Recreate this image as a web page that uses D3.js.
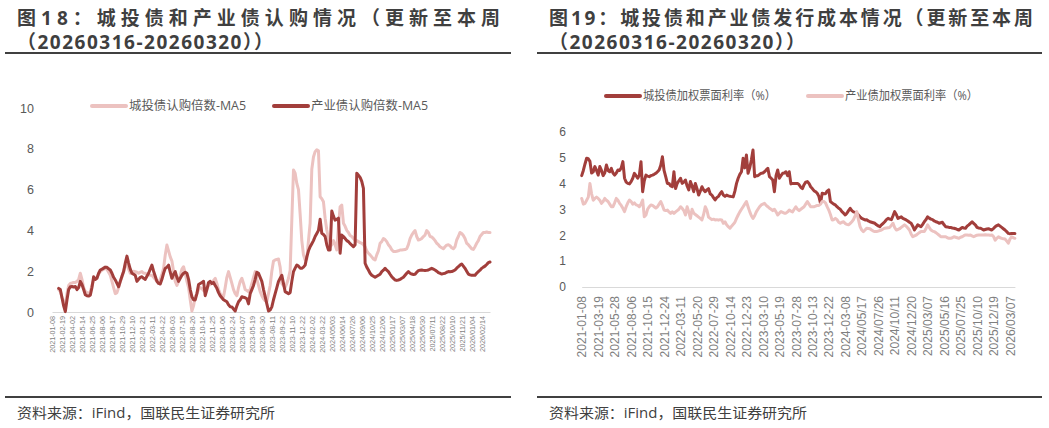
<!DOCTYPE html>
<html>
<head>
<meta charset="utf-8">
<script src="https://cdn.jsdelivr.net/npm/d3@7"></script>
<style>
  body { margin: 0; background: #fff; }
  svg { display: block; font-family: "Open Sans", "Noto Sans CJK SC", sans-serif; }
</style>
</head>
<body>
<svg width="1049" height="428"></svg>
<script>
// ---- data ----
// Left chart: weekly subscription multiples (MA5), first 4 weeks empty
const leftTickLabels = ["2021-01-08","2021-02-19","2021-04-02","2021-05-14","2021-06-25","2021-08-06","2021-09-17","2021-10-29","2021-12-10","2022-01-21","2022-03-11","2022-04-22","2022-06-03","2022-07-15","2022-08-26","2022-10-14","2022-11-25","2023-01-06","2023-02-24","2023-04-07","2023-05-19","2023-06-30","2023-08-11","2023-09-22","2023-11-10","2023-12-22","2024-02-02","2024-03-22","2024/05/03","2024/06/14","2024/07/26","2024/09/06","2024/10/25","2024/12/06","2025/01/17","2025/03/07","2025/04/18","2025/05/30","2025/07/11","2025/08/22","2025/10/10","2025/11/21","2026/01/04","2026/02/14"];

const ctSubscribe = [null,null,null,null,1.1,1.0,0.7,0.5,0.35,0.9,
  1.3,1.4,1.42,1.45,1.45,1.5,1.6,1.9,1.6,1.2,
  1.0,0.95,0.9,1.0,1.3,1.57,1.6,1.7,1.85,1.98,
  2.05,2.1,2.14,2.1,1.95,1.8,1.5,1.2,0.9,0.95,
  1.2,1.5,1.73,2.0,2.3,2.3,2.1,1.9,1.95,2.0,
  1.98,1.95,1.9,1.95,1.98,1.9,1.9,1.85,1.85,1.8,
  1.8,1.7,1.6,1.5,1.5,1.6,1.85,2.14,2.8,3.28,
  3.0,2.7,2.5,2.0,1.5,1.3,1.5,1.8,2.1,2.22,
  1.9,1.5,1.2,0.6,0.05,0.3,0.75,0.9,1.1,1.2,
  1.15,1.05,1.0,1.15,1.3,1.35,1.4,1.55,1.65,1.4,
  1.1,0.9,0.8,0.75,1.2,1.7,1.98,1.7,1.4,1.1,
  0.9,0.8,1.2,1.5,1.65,1.4,1.1,1.05,1.0,1.1,
  1.4,1.7,1.98,1.6,1.3,1.0,0.8,0.65,0.55,0.5,
  0.9,1.3,2.0,2.5,2.55,2.58,2.6,2.2,1.4,1.3,
  1.2,1.4,1.65,2.05,4.5,6.96,6.8,6.3,6.0,4.8,
  3.5,2.8,2.55,2.6,3.5,4.35,7.0,7.6,7.86,7.95,
  7.9,5.65,5.55,5.4,4.6,4.02,3.6,3.2,3.3,3.5,
  3.3,3.04,4.2,5.16,5.24,4.35,4.2,4.0,3.9,3.75,
  3.7,3.6,3.53,3.5,3.45,3.4,3.37,3.3,3.2,3.0,
  2.88,2.8,2.7,2.6,2.55,2.8,3.0,3.37,3.45,3.6,
  3.55,3.45,3.3,3.2,3.05,2.96,2.96,2.98,3.0,3.04,
  3.04,3.05,3.06,3.1,3.3,3.6,3.77,3.9,3.99,3.7,
  3.53,3.55,3.6,3.7,3.77,3.99,3.9,3.7,3.68,3.6,
  3.5,3.37,3.3,3.2,3.15,3.1,3.2,3.28,3.3,3.25,
  3.15,3.1,3.2,3.53,3.7,3.9,3.85,3.75,3.6,3.37,
  3.3,3.2,3.1,3.07,3.2,3.37,3.5,3.7,3.8,3.9,
  3.9,3.92,3.9,3.9];

const cySubscribe = [null,null,null,null,1.16,1.1,0.7,0.3,0.02,0.6,
  1.1,1.24,1.25,1.22,1.25,1.1,1.2,1.5,1.35,1.1,
  0.85,0.8,0.78,0.82,1.2,1.73,1.6,1.65,1.9,2.06,
  2.1,2.15,2.2,2.19,2.12,2.06,1.9,1.7,1.57,1.4,
  1.24,1.5,1.75,1.98,2.4,2.74,2.4,2.1,1.9,1.85,
  1.8,1.5,1.6,1.7,1.73,1.65,1.6,1.75,1.9,2.1,
  2.3,2.0,1.75,1.5,1.4,1.37,1.6,1.9,2.14,2.2,
  2.3,1.95,1.65,1.85,1.98,1.7,1.5,1.65,1.8,1.9,
  1.95,1.9,1.6,1.1,0.75,0.6,0.59,0.9,1.35,1.4,
  1.45,1.5,0.8,1.1,1.45,1.5,1.4,1.45,1.3,1.16,
  0.95,0.8,0.7,0.6,0.55,0.5,0.35,0.26,0.25,0.15,
  0.05,0.3,0.5,0.6,0.75,0.72,0.7,0.65,0.4,0.9,
  1.1,1.3,1.6,1.95,1.9,1.7,1.5,1.1,0.75,0.4,
  0.05,0.1,0.25,0.6,0.9,1.2,1.5,1.65,1.8,1.4,
  1.0,0.95,0.9,0.95,1.5,1.98,2.15,2.3,2.25,2.15,
  2.14,2.2,2.3,2.7,3.0,3.2,3.35,3.5,3.7,3.85,
  4.0,4.55,3.86,3.8,3.7,3.3,3.04,3.04,4.95,4.7,
  4.5,4.55,4.6,2.88,3.77,3.7,3.6,3.5,3.45,3.35,
  3.28,3.2,3.3,6.8,6.7,6.6,6.4,6.06,2.39,2.2,
  2.06,1.9,1.8,1.75,1.7,1.75,1.8,1.85,1.98,2.05,
  2.14,2.05,1.98,1.85,1.73,1.65,1.57,1.55,1.57,1.6,
  1.65,1.7,1.8,1.9,1.98,1.9,1.86,1.84,1.85,1.95,
  2.03,2.05,2.06,2.04,2.03,2.04,2.06,2.1,2.14,2.1,
  2.06,2.0,1.93,1.9,1.86,1.88,1.9,1.95,1.98,1.97,
  1.98,2.02,2.06,2.15,2.22,2.3,2.35,2.25,2.14,2.0,
  1.86,1.82,1.8,1.8,1.8,1.9,1.98,2.05,2.14,2.2,
  2.25,2.33,2.42,2.45];

// Right chart: weekly weighted coupon rates (%)
const rightTickLabels = ["2021-01-08","2021-03-19","2021-05-28","2021-08-06","2021-10-15","2021-12-24","2022-03-11","2022-05-20","2022-07-29","2022-10-14","2022-12-23","2023-03-10","2023-05-19","2023-07-28","2023-10-13","2023-12-22","2024-03-08","2024/05/17","2024/07/26","2024/10/11","2024/12/20","2025/03/07","2025/05/16","2025/07/25","2025/10/10","2025/12/19","2026/03/07"];

const ctCoupon = [4.3,4.5,4.75,4.97,4.95,4.85,4.4,4.45,4.65,4.5,
  4.32,4.65,4.5,4.3,4.4,4.71,4.5,4.45,4.58,4.4,
  4.32,4.4,4.52,4.5,4.6,4.84,4.2,4.05,4.0,3.98,
  4.07,4.2,4.39,4.3,4.2,4.32,4.84,3.68,4.1,4.32,
  4.28,4.26,4.3,4.32,4.35,4.39,4.45,4.52,4.7,5.03,
  4.5,4.26,4.0,4.0,3.9,3.87,4.45,3.8,4.0,4.1,
  4.2,4.0,4.05,4.13,3.9,3.75,4.07,3.9,3.68,4.0,
  3.8,3.55,3.7,3.87,3.75,3.68,3.75,3.8,3.6,3.55,
  3.45,3.36,3.45,3.5,3.6,3.68,3.55,3.5,3.55,3.52,
  3.5,3.49,3.48,3.7,4.0,4.2,4.35,4.45,4.97,4.6,
  5.1,4.39,4.6,4.9,5.29,4.26,4.3,4.3,4.35,4.39,
  4.4,4.45,4.52,4.58,4.26,4.2,4.13,3.68,4.3,4.52,
  4.2,4.3,4.39,4.4,4.45,4.3,4.45,3.98,4.0,4.0,
  4.0,4.0,3.95,3.85,3.8,3.95,4.05,4.07,4.0,3.87,
  3.8,3.72,3.68,3.62,3.5,3.23,3.62,3.6,3.6,3.7,
  3.75,3.3,3.25,3.2,3.17,3.1,3.04,3.0,2.91,2.85,
  2.78,2.85,2.95,3.04,2.95,2.9,2.88,2.85,2.78,2.71,
  2.65,2.62,2.59,2.6,2.55,2.52,2.5,2.48,2.46,2.4,
  2.36,2.33,2.4,2.46,2.52,2.6,2.65,2.62,2.6,2.75,
  2.91,2.8,2.65,2.68,2.71,2.65,2.62,2.59,2.55,2.5,
  2.46,2.35,2.2,2.3,2.4,2.36,2.33,2.42,2.52,2.6,
  2.71,2.66,2.62,2.6,2.55,2.52,2.5,2.46,2.48,2.5,
  2.4,2.33,2.32,2.3,2.3,2.28,2.27,2.25,2.22,2.2,
  2.25,2.3,2.28,2.27,2.35,2.4,2.46,2.52,2.45,2.4,
  2.3,2.28,2.27,2.24,2.2,2.22,2.24,2.25,2.22,2.2,
  2.26,2.33,2.37,2.4,2.35,2.3,2.25,2.2,2.14,2.07,
  2.06,2.07,2.07,2.07];

const cyCoupon = [3.42,3.2,3.23,3.35,3.47,4.0,3.6,3.35,3.42,3.47,
  3.42,3.35,3.23,3.3,3.42,3.35,3.3,3.2,3.1,3.1,
  3.25,3.42,3.35,3.23,3.15,3.04,2.91,3.1,3.25,3.36,
  3.3,3.2,3.25,3.17,3.15,3.1,3.2,3.36,2.71,2.78,
  3.0,3.1,3.17,3.15,3.1,3.05,3.1,3.2,3.3,3.15,
  2.97,2.95,2.97,2.9,2.84,2.9,2.84,2.9,2.95,3.0,
  3.1,3.04,2.95,2.78,3.1,2.9,2.65,3.0,2.85,2.8,
  2.75,2.7,2.65,2.59,2.8,3.1,2.97,2.7,2.65,2.6,
  2.62,2.59,2.6,2.58,2.6,2.59,2.46,2.52,2.4,2.33,
  2.27,2.35,2.42,2.5,2.65,2.78,2.9,3.0,3.1,3.2,
  3.3,3.1,2.91,2.75,2.65,2.75,2.9,3.0,3.1,3.17,
  3.2,3.23,3.15,3.1,3.04,3.0,2.95,3.0,2.9,2.78,
  2.85,2.91,2.88,2.85,2.85,2.9,2.97,2.93,2.9,3.0,
  3.1,3.0,2.95,3.0,3.05,3.1,3.2,3.3,3.2,3.1,
  3.1,3.1,3.12,3.15,3.15,3.2,3.3,3.3,3.25,3.1,
  2.97,2.8,2.59,2.6,2.65,2.6,2.5,2.46,2.5,2.52,
  2.45,2.42,2.4,2.45,2.52,2.6,2.75,2.91,2.6,2.33,
  2.2,2.14,2.2,2.27,2.26,2.25,2.2,2.16,2.14,2.14,
  2.16,2.18,2.2,2.24,2.27,2.28,2.29,2.3,2.38,2.46,
  2.3,2.2,2.22,2.25,2.3,2.35,2.4,2.35,2.28,2.2,
  2.05,1.94,1.97,2.0,2.05,2.1,2.14,2.14,2.14,2.25,
  2.4,2.3,2.2,2.16,2.14,2.1,2.05,2.0,1.94,1.94,
  1.94,1.94,1.9,1.88,1.88,1.9,1.94,1.92,1.9,1.88,
  1.92,1.94,1.98,2.01,2.01,2.0,2.01,1.97,1.94,1.97,
  2.0,2.01,2.01,2.01,2.01,2.02,2.01,2.01,2.0,2.01,
  1.95,1.81,1.88,1.94,1.9,1.88,1.86,1.85,1.78,1.69,
  1.85,1.94,1.9,1.88];

const leftYTicks = [0, 2, 4, 6, 8, 10];
const rightYTicks = [0, 1, 2, 3, 4, 5, 6];

// ---- styles ----
const darkRed = "#a23e3b";
const lightPink = "#ecc2c0";
const textGray = "#595959";

const svg = d3.select("svg");

// ---- titles, rules, source ----
function panelFrame(x0, x1, line1, line2, len1, len2) {
  svg.append("text").attr("x", x0 + 12).attr("y", 25)
    .attr("font-size", 19).attr("font-weight", "bold").attr("fill", "#3f3f3f")
    .attr("textLength", len1).attr("lengthAdjust", "spacing")
    .text(line1);
  svg.append("text").attr("x", x0 + 12).attr("y", 49)
    .attr("font-size", 19).attr("font-weight", "bold").attr("fill", "#3f3f3f")
    .attr("textLength", len2).attr("lengthAdjust", "spacing")
    .text(line2);
  svg.append("line").attr("x1", x0).attr("x2", x1).attr("y1", 53).attr("y2", 53)
    .attr("stroke", "#404040").attr("stroke-width", 2);
  svg.append("line").attr("x1", x0).attr("x2", x1).attr("y1", 397).attr("y2", 397)
    .attr("stroke", "#404040").attr("stroke-width", 2);
  svg.append("text").attr("x", x0 + 12).attr("y", 418)
    .attr("font-size", 14).attr("fill", "#404040")
    .attr("textLength", 258).attr("lengthAdjust", "spacingAndGlyphs")
    .text("资料来源：iFind，国联民生证券研究所");
}
panelFrame(5, 511, "图18：城投债和产业债认购情况（更新至本周", "（20260316-20260320））", 483, 256);
panelFrame(537, 1042, "图19：城投债和产业债发行成本情况（更新至本周", "（20260316-20260320））", 484, 256);

// ---- chart helper ----
function drawChart(opt) {
  const n = opt.series[0].values.length;
  const x = d3.scalePoint().domain(d3.range(n)).range(opt.xRange);
  const y = d3.scaleLinear().domain(opt.yDomain).range(opt.yRange);

  // y axis labels
  const ya = svg.append("g").attr("transform", `translate(${opt.yLabelX},0)`)
    .call(d3.axisLeft(y).tickValues(opt.yTicks).tickFormat(d3.format("d"))
      .tickSize(0).tickPadding(0));
  ya.select(".domain").remove();
  ya.selectAll("text").attr("font-size", opt.yFont).attr("fill", textGray)
    .attr("font-family", null);

  // x axis
  const every = opt.tickEvery;
  const xa = svg.append("g").attr("transform", `translate(0,${opt.yRange[0]})`)
    .call(d3.axisBottom(x)
      .tickValues(d3.range(0, n, every).slice(0, opt.tickLabels.length))
      .tickFormat(i => opt.tickLabels[i / every])
      .tickSize(0).tickSizeOuter(0));
  xa.select(".domain").attr("stroke", "#d9d9d9").attr("stroke-width", 1.2);
  xa.selectAll("text")
    .attr("font-size", opt.xFont).attr("fill", "#7f7f7f").attr("font-family", null)
    .attr("transform", "rotate(-90)")
    .attr("x", -opt.xLabelGap).attr("y", 0).attr("dy", "0.35em")
    .style("text-anchor", "end");

  // lines
  const line = d3.line().defined(d => d != null)
    .x((d, i) => x(i)).y(d => y(d));
  opt.series.forEach(s => {
    svg.append("path").datum(s.values)
      .attr("fill", "none").attr("stroke", s.color).attr("stroke-width", opt.lineWidth)
      .attr("stroke-linejoin", "round").attr("stroke-linecap", "round")
      .attr("d", line);
  });

  // legend
  opt.legend.forEach(l => {
    svg.append("line").attr("x1", l.x).attr("x2", l.x + 34)
      .attr("y1", opt.legendY).attr("y2", opt.legendY)
      .attr("stroke", l.color).attr("stroke-width", 4).attr("stroke-linecap", "round");
    svg.append("text").attr("x", l.x + 37).attr("y", opt.legendY).attr("dy", "0.35em")
      .attr("font-size", 12).attr("fill", textGray)
      .attr("textLength", l.len).attr("lengthAdjust", "spacingAndGlyphs")
      .text(l.name);
  });
}

drawChart({
  series: [
    { values: ctSubscribe, color: lightPink },
    { values: cySubscribe, color: darkRed }
  ],
  xRange: [52, 490], yDomain: [0, 10], yRange: [312, 108],
  yTicks: leftYTicks, yLabelX: 34, yFont: 12.5,
  tickLabels: leftTickLabels, tickEvery: 6, xFont: 7.2, xLabelGap: 4,
  lineWidth: 3,
  legendY: 106,
  legend: [
    { name: "城投债认购倍数-MA5", color: lightPink, x: 92, len: 117 },
    { name: "产业债认购倍数-MA5", color: darkRed, x: 274, len: 117 }
  ]
});

drawChart({
  series: [
    { values: ctCoupon, color: darkRed },
    { values: cyCoupon, color: lightPink }
  ],
  xRange: [581.7, 1014.9], yDomain: [0, 6], yRange: [287, 131.6],
  yTicks: rightYTicks, yLabelX: 566, yFont: 12,
  tickLabels: rightTickLabels, tickEvery: 10, xFont: 12, xLabelGap: 9,
  lineWidth: 3,
  legendY: 96,
  legend: [
    { name: "城投债加权票面利率（%）", color: darkRed, x: 606, len: 133 },
    { name: "产业债加权票面利率（%）", color: lightPink, x: 808, len: 133 }
  ]
});
</script>
</body>
</html>
